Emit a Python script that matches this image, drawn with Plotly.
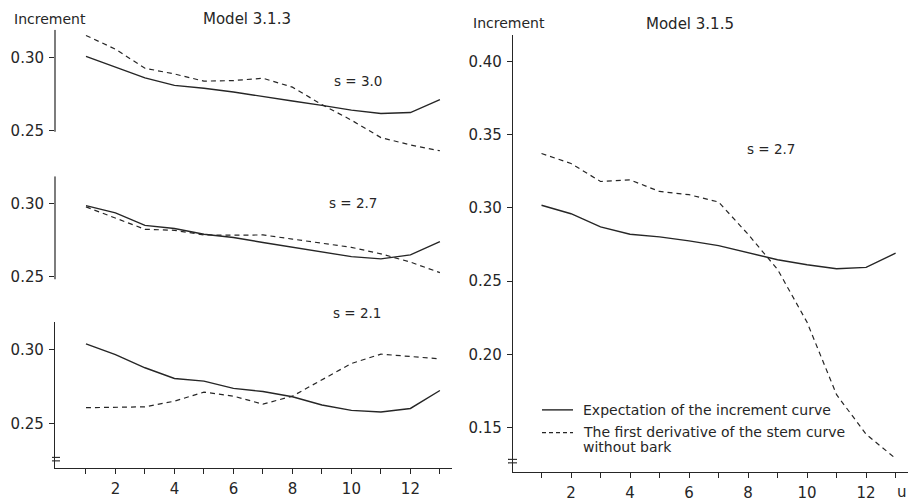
import plotly.graph_objects as go

# ---------------- data ----------------
u = list(range(1, 14))

# Model 3.1.3, three values of s
expect_s30 = [0.3007, 0.2932, 0.2860, 0.2809, 0.2790, 0.2764, 0.2736, 0.2703, 0.2673, 0.2640, 0.2617, 0.2624, 0.2712]
deriv_s30 = [0.3150, 0.3056, 0.2926, 0.2887, 0.2838, 0.2842, 0.2858, 0.2797, 0.2678, 0.2572, 0.2453, 0.2403, 0.2363]

expect_s27 = [0.2989, 0.2939, 0.2852, 0.2830, 0.2791, 0.2768, 0.2734, 0.2700, 0.2666, 0.2636, 0.2620, 0.2648, 0.2739]
deriv_s27 = [0.2980, 0.2905, 0.2825, 0.2818, 0.2786, 0.2784, 0.2786, 0.2757, 0.2727, 0.2700, 0.2655, 0.2598, 0.2525]

expect_s21 = [0.3038, 0.2966, 0.2877, 0.2805, 0.2787, 0.2738, 0.2717, 0.2682, 0.2626, 0.2590, 0.2579, 0.2603, 0.2724]
deriv_s21 = [0.2608, 0.2612, 0.2614, 0.2652, 0.2713, 0.2686, 0.2632, 0.2686, 0.2798, 0.2906, 0.2969, 0.2955, 0.2937]

# Model 3.1.5, s = 2.7
expect_m315 = [0.3018, 0.2960, 0.2870, 0.2820, 0.2802, 0.2775, 0.2742, 0.2696, 0.2646, 0.2612, 0.2585, 0.2594, 0.2691]
deriv_m315 = [0.3371, 0.3303, 0.3180, 0.3191, 0.3112, 0.3090, 0.3040, 0.2820, 0.2580, 0.2219, 0.1725, 0.1455, 0.1290]

x_ticks = list(range(1, 14))
x_ticktext = [str(v) if v % 2 == 0 else "" for v in x_ticks]
left_yticks = [0.25, 0.30]
right_yticks = [0.15, 0.20, 0.25, 0.30, 0.35, 0.40]

# ---------------- styling ----------------
W, H = 912, 502
INK = "#262626"
FONT = "DejaVu Sans"
SOLID = dict(color=INK, width=1.4)
DASHED = dict(color=INK, width=1.2, dash="5px,4px")


def px(x):
    return x / W


def py(y):
    return 1 - y / H


fig = go.Figure()

panels = [
    ("x", "y", expect_s30, deriv_s30),
    ("x2", "y2", expect_s27, deriv_s27),
    ("x3", "y3", expect_s21, deriv_s21),
    ("x4", "y4", expect_m315, deriv_m315),
]
for xa, ya, e, d in panels:
    fig.add_trace(go.Scatter(x=u, y=e, mode="lines", line=SOLID, xaxis=xa, yaxis=ya,
                             showlegend=False, hoverinfo="skip"))
    fig.add_trace(go.Scatter(x=u, y=d, mode="lines", line=DASHED, xaxis=xa, yaxis=ya,
                             showlegend=False, hoverinfo="skip"))

tickfont = dict(family=FONT, size=15, color=INK)
left_dom = [px(55), px(452)]
left_range = [-0.05, 13.41]

common_y = dict(showgrid=False, zeroline=False, ticks="outside", ticklen=5, tickwidth=1,
                tickcolor=INK, tickfont=tickfont, linecolor=INK, linewidth=1.2,
                ticklabelstandoff=2)
common_x = dict(showgrid=False, zeroline=False, range=left_range)

fig.update_layout(
    width=W, height=H,
    margin=dict(l=0, r=0, t=0, b=0),
    paper_bgcolor="white", plot_bgcolor="white",
    font=dict(family=FONT, color=INK),
    xaxis=dict(domain=left_dom, anchor="y", visible=False, **common_x),
    xaxis2=dict(domain=left_dom, anchor="y2", visible=False, matches="x", **common_x),
    xaxis3=dict(domain=left_dom, anchor="y3", matches="x", showline=True, linecolor=INK,
                linewidth=1.2, ticks="outside", ticklen=5, tickcolor=INK,
                tickvals=x_ticks, ticktext=x_ticktext, tickfont=tickfont,
                ticklabelstandoff=2, **common_x),
    xaxis4=dict(domain=[px(513), px(908)], anchor="y4", range=[0.034, 13.42],
                showgrid=False, zeroline=False, showline=True, linecolor=INK, linewidth=1.2,
                ticks="outside", ticklen=5, tickcolor=INK, tickvals=x_ticks,
                ticktext=x_ticktext, tickfont=tickfont, ticklabelstandoff=2),
    yaxis=dict(domain=[py(160), py(30)], anchor="x", range=[0.2311, 0.3189],
               tickvals=left_yticks, tickformat=".2f", showline=False, **common_y),
    yaxis2=dict(domain=[py(290), py(178)], anchor="x2", range=[0.2425, 0.3192],
                tickvals=left_yticks, tickformat=".2f", showline=False, **common_y),
    yaxis3=dict(domain=[py(473), py(325)], anchor="x3", range=[0.22, 0.3187],
                tickvals=left_yticks, tickformat=".2f", showline=True, **common_y),
    yaxis4=dict(domain=[py(477), py(35)], anchor="x4", range=[0.1196, 0.4182],
                tickvals=right_yticks, tickformat=".2f", showline=True, **common_y),
)

# short vertical spines for the two upper panels
fig.add_shape(type="line", xref="x domain", yref="y", x0=0, x1=0, y0=0.2493, y1=0.3189,
              line=dict(color=INK, width=1.2))
fig.add_shape(type="line", xref="x2 domain", yref="y2", x0=0, x1=0, y0=0.2480, y1=0.3192,
              line=dict(color=INK, width=1.2))

# axis break marks
for (xa, xb, ya, yb) in [(52, 60, 462, 465.5), (508, 517, 464, 467.5)]:
    for yy in (ya, yb):
        fig.add_shape(type="line", xref="paper", yref="paper", x0=px(xa), x1=px(xb),
                      y0=py(yy), y1=py(yy), line=dict(color=INK, width=1.1))


def label(text, x, y, size=14, anchor="center"):
    fig.add_annotation(text=text, xref="paper", yref="paper", x=px(x), y=py(y),
                       xanchor=anchor, yanchor="middle", showarrow=False,
                       font=dict(family=FONT, size=size, color=INK))


label("Increment", 12, 19, anchor="left")
label("Model 3.1.3", 247, 19, size=15)
label("s = 3.0", 358, 82, size=13.5)
label("s = 2.7", 353, 205, size=13.5)
label("s = 2.1", 357, 316, size=13.5)
label("Increment", 471, 23, anchor="left")
label("Model 3.1.5", 690, 24, size=15)
label("s = 2.7", 771, 150, size=13.5)
label("u", 909, 497, size=15, anchor="right")

# legend
fig.add_shape(type="line", xref="paper", yref="paper", x0=px(542), x1=px(573),
              y0=py(414), y1=py(414), line=SOLID)
fig.add_shape(type="line", xref="paper", yref="paper", x0=px(542), x1=px(573),
              y0=py(437), y1=py(437), line=dict(color=INK, width=1.2, dash="4px,3px"))
label("Expectation of the increment curve", 581, 414, anchor="left")
label("The first derivative of the stem curve", 581, 436, anchor="left")
label("without bark", 581, 451, anchor="left")

fig.write_html("out.html")
